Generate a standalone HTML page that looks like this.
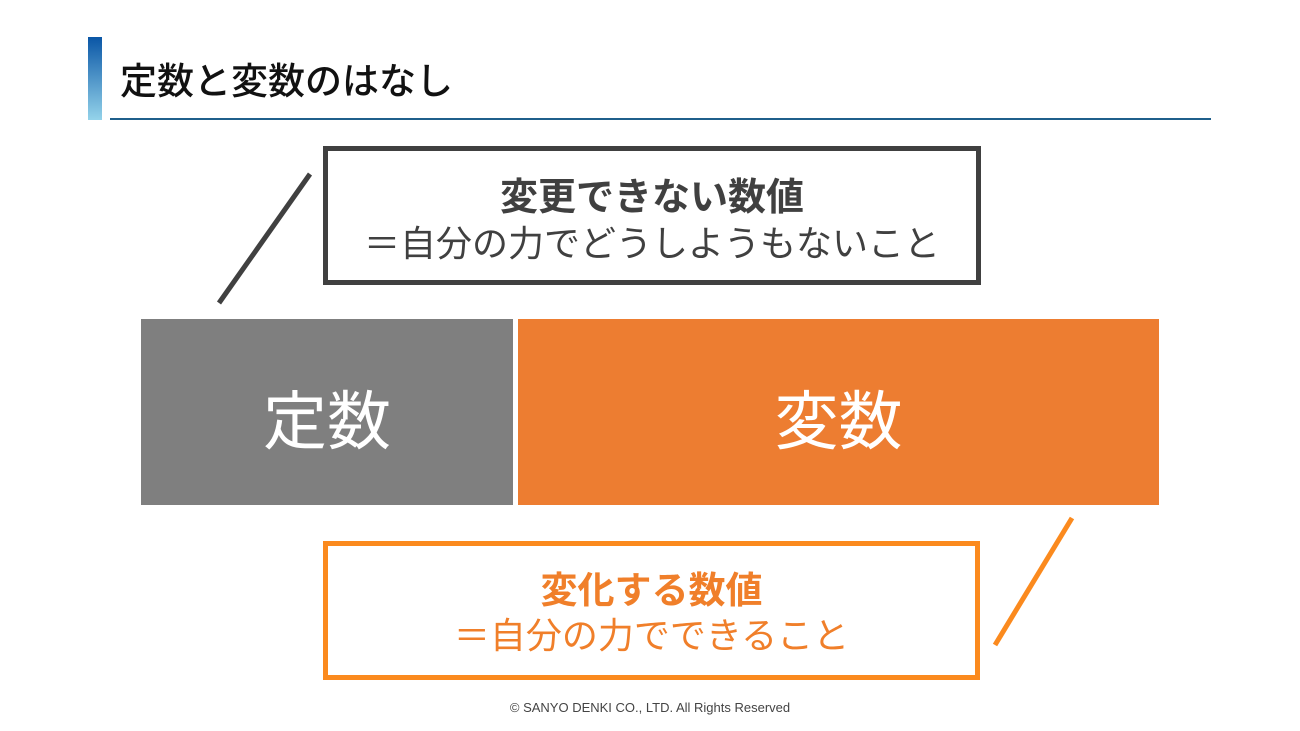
<!DOCTYPE html>
<html><head><meta charset="utf-8"><style>
body{margin:0;width:1300px;height:731px;background:#fff;position:relative;overflow:hidden;font-family:"Liberation Sans","Noto Sans CJK JP",sans-serif}
div{position:absolute;box-sizing:border-box}
.t{text-align:center;width:100%;left:0;white-space:nowrap;line-height:1}
</style></head><body>
<div style="left:88px;top:37px;width:14px;height:83px;background:linear-gradient(#0a56a6,#94d3ea)"></div>
<div style="left:120px;top:63px;font-size:37px;line-height:1;color:#111;font-weight:500">定数と変数のはなし</div>
<div style="left:110px;top:118px;width:1101px;height:2px;background:#1f5f8b"></div>
<div style="left:323px;top:146px;width:658px;height:139px;border:5px solid #404040">
 <div class="t" style="top:28px;font-size:38px;font-weight:bold;color:#404040">変更できない数値</div>
 <div class="t" style="top:75px;font-size:36px;color:#404040">＝自分の力でどうしようもないこと</div>
</div>
<div style="left:141px;top:319px;width:372px;height:186px;background:#7f7f7f"></div>
<div style="left:141px;top:329px;width:372px;height:186px;color:#fff;font-size:64px;text-align:center;line-height:186px">定数</div>
<div style="left:518px;top:319px;width:641px;height:186px;background:#ed7d31"></div>
<div style="left:518px;top:329px;width:641px;height:186px;color:#fff;font-size:64px;text-align:center;line-height:186px">変数</div>
<div style="left:323px;top:541px;width:657px;height:139px;border:5px solid #fb8a1e">
 <div class="t" style="top:26px;font-size:37px;font-weight:bold;color:#f07f2a">変化する数値</div>
 <div class="t" style="top:72px;font-size:36px;color:#f07f2a">＝自分の力でできること</div>
</div>
<svg style="position:absolute;left:0;top:0" width="1300" height="731">
<line x1="219" y1="303" x2="310" y2="174" stroke="#404040" stroke-width="5"/>
<line x1="995" y1="645" x2="1072" y2="518" stroke="#fb8a1e" stroke-width="5"/>
</svg>
<div class="t" style="top:701px;font-size:13px;color:#444">© SANYO DENKI CO., LTD. All Rights Reserved</div>
</body></html>
